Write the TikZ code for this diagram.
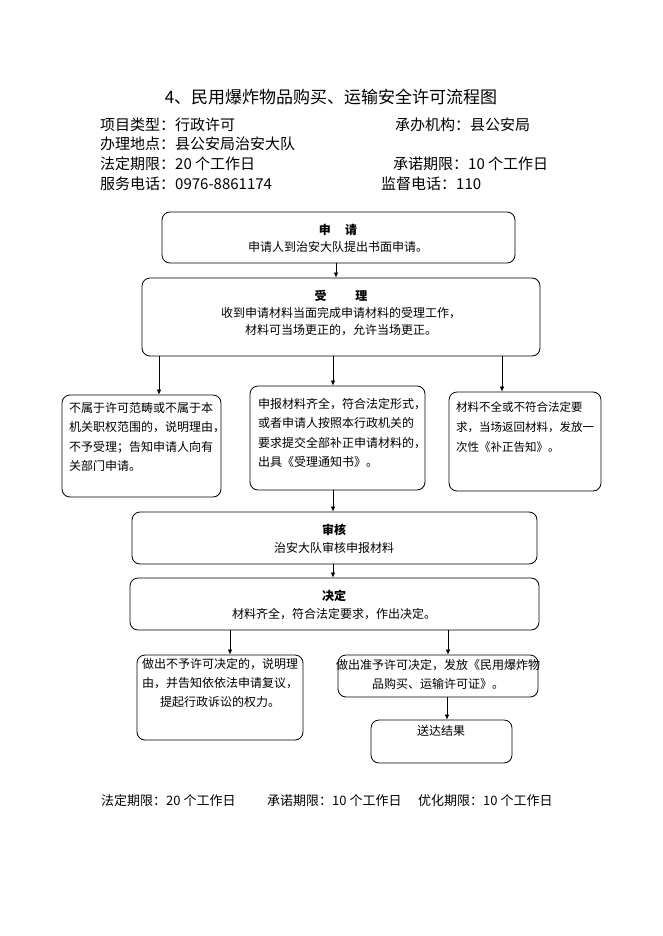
\documentclass[tikz,border=0pt]{standalone}
\usepackage{fontspec}
\setmainfont{Noto Sans CJK SC}
\usetikzlibrary{arrows.meta}
\begin{document}
\begin{tikzpicture}[x=1pt,y=-1pt,
  box/.style={draw, rounded corners=8pt, line width=0.8pt, inner sep=0pt},
  arr/.style={-{Latex[length=5pt,width=4.5pt]}, line width=0.7pt},
  title/.style={font=\fontsize{17}{19}\selectfont},
  info/.style={font=\fontsize{15}{17}\selectfont, anchor=west, inner sep=0pt},
  foot/.style={font=\fontsize{13}{15}\selectfont, anchor=west, inner sep=0pt},
  head/.style={font=\fontsize{12}{14}\selectfont\bfseries, inner sep=0pt},
  txt/.style={font=\fontsize{12}{14}\selectfont, inner sep=0pt},
  ltxt/.style={font=\fontsize{12}{19.5}\selectfont, inner sep=0pt, align=left, anchor=north west},
  ctxt/.style={font=\fontsize{12}{19}\selectfont, inner sep=0pt, align=center, anchor=north}]
\useasboundingbox (0,0) rectangle (662,936);
\fill[white] (0,0) rectangle (662,936);

% title and info
\node[title] (t) at (331,97) {4、民用爆炸物品购买、运输安全许可流程图};
\node[info] (i1) at (100,125) {项目类型：行政许可};
\node[info] (i2) at (395,125) {承办机构：县公安局};
\node[info] (i3) at (100,144) {办理地点：县公安局治安大队};
\node[info] (i4) at (100,164) {法定期限：20 个工作日};
\node[info] (i5) at (393,164) {承诺期限：10 个工作日};
\node[info] (i6) at (100,184) {服务电话：0976-8861174};
\node[info] (i7) at (381,184) {监督电话：110};

% boxes
\node[box, minimum width=353pt, minimum height=51pt] (sq) at (338.5,237.5) {};
\node[head] (sqh) at (338,230) {申\hspace{1.2em}请};
\node[txt] (sqt) at (338,247) {申请人到治安大队提出书面申请。};

\node[box, minimum width=398pt, minimum height=78pt] (sl) at (341,317) {};
\node[head] (slh) at (341,296) {受\hspace{2.4em}理};
\node[txt] (slt1) at (341,313) {收到申请材料当面完成申请材料的受理工作，};
\node[txt] (slt2) at (341,330) {材料可当场更正的，允许当场更正。};

\node[box, minimum width=159pt, minimum height=102pt] (bl) at (141.5,446) {};
\node[ltxt] (blt) at (69,402) {不属于许可范畴或不属于本\\机关职权范围的，说明理由，\\不予受理；告知申请人向有\\关部门申请。};

\node[box, minimum width=175pt, minimum height=104pt] (bm) at (337.5,438) {};
\node[ltxt] (bmt) at (258,398) {申报材料齐全，符合法定形式，\\或者申请人按照本行政机关的\\要求提交全部补正申请材料的，\\出具《受理通知书》。};

\node[box, minimum width=152pt, minimum height=99pt] (br) at (525,441.5) {};
\node[ltxt, font=\fontsize{11.5}{20}\selectfont] (brt) at (456,402) {材料不全或不符合法定要\\求，当场返回材料，发放一\\次性《补正告知》。};

\node[box, minimum width=405pt, minimum height=52pt] (sh) at (334.5,538) {};
\node[head] (shh) at (334,530) {审核};
\node[txt] (sht) at (334,548) {治安大队审核申报材料};

\node[box, minimum width=409pt, minimum height=52pt] (jd) at (334.5,604) {};
\node[head] (jdh) at (334,596) {决定};
\node[txt] (jdt) at (334,614) {材料齐全，符合法定要求，作出决定。};

\node[box, minimum width=166pt, minimum height=85pt] (ll) at (220,697.5) {};
\node[ctxt] (llt) at (220,658) {做出不予许可决定的，说明理\\由，并告知依依法申请复议，\\提起行政诉讼的权力。};

\node[box, minimum width=200pt, minimum height=42pt] (lr) at (438,676) {};
\node[ctxt] (lrt) at (438,659) {做出准予许可决定，发放《民用爆炸物\\品购买、运输许可证》。};

\node[box, minimum width=141pt, minimum height=43pt] (sd) at (441.5,741.5) {};
\node[txt] (sdt) at (441,731) {送达结果};

% footer
\node[foot] (f1) at (101,801) {法定期限：20 个工作日};
\node[foot] (f2) at (267,801) {承诺期限：10 个工作日};
\node[foot] (f3) at (418,801) {优化期限：10 个工作日};

% arrow x positions
\coordinate (xa) at (336,0);
\coordinate (xb) at (159,0);
\coordinate (xc) at (333,0);
\coordinate (xd) at (502,0);
\coordinate (xe) at (230,0);
\coordinate (xf) at (448,0);
\coordinate (xg) at (447,0);

\draw[arr] (sq.south -| xa) -- (sl.north -| xa);
\draw[arr] (sl.south -| xb) -- (bl.north -| xb);
\draw[arr] (sl.south -| xc) -- (bm.north -| xc);
\draw[arr] (sl.south -| xd) -- (br.north -| xd);
\draw[arr] (bm.south -| xc) -- (sh.north -| xc);
\draw[arr] (sh.south -| xc) -- (jd.north -| xc);
\draw[arr] (jd.south -| xe) -- (ll.north -| xe);
\draw[arr] (jd.south -| xf) -- (lr.north -| xf);
\draw[arr] (lr.south -| xg) -- (sd.north -| xg);
\end{tikzpicture}
\end{document}
